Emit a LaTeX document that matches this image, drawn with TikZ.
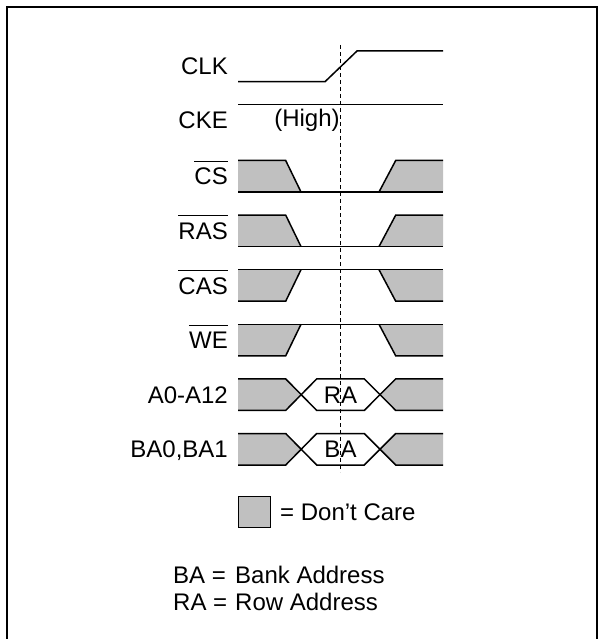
\documentclass[tikz,border=0pt]{standalone}
\usepackage{fontspec}
\setmainfont{Liberation Sans}
\definecolor{dcgray}{RGB}{192,192,192}
\newcommand{\sigLow}[2]{%
  \fill[dc] (238,#1) -- (285.7,#1) -- (301,#2) -- (238,#2) -- cycle;
  \fill[dc] (379,#2) -- (395.7,#1) -- (443,#1) -- (443,#2) -- cycle;
  \draw[sig] (238,#1) -- (285.7,#1) -- (301,#2);
  \draw[sig] (238,#2) -- (443,#2);
  \draw[sig] (379,#2) -- (395.7,#1) -- (443,#1);}
\newcommand{\sigHigh}[2]{%
  \fill[dc] (238,#2) -- (285.7,#2) -- (301,#1) -- (238,#1) -- cycle;
  \fill[dc] (379,#1) -- (395.7,#2) -- (443,#2) -- (443,#1) -- cycle;
  \draw[sig] (238,#2) -- (285.7,#2) -- (301,#1);
  \draw[sig] (238,#1) -- (443,#1);
  \draw[sig] (379,#1) -- (395.7,#2) -- (443,#2);}
\newcommand{\sigBus}[3]{% top, bottom, middle
  \fill[dc] (238,#1) -- (285.7,#1) -- (301,#3) -- (285.7,#2) -- (238,#2) -- cycle;
  \fill[dc] (443,#1) -- (395.7,#1) -- (380,#3) -- (395.7,#2) -- (443,#2) -- cycle;
  \draw[sig] (238,#1) -- (285.7,#1) -- (316.7,#2) -- (364.3,#2) -- (395.7,#1) -- (443,#1);
  \draw[sig] (238,#2) -- (285.7,#2) -- (316.7,#1) -- (364.3,#1) -- (395.7,#2) -- (443,#2);}
\begin{document}
\begin{tikzpicture}[x=1pt,y=-1pt,
  sig/.style={line width=1.5pt},
  dc/.style={fill=dcgray},
  lbl/.style={inner sep=0pt,font=\fontsize{24}{28}\selectfont},
  ovl/.style={line width=1.1pt},
  frame/.style={line width=1.4pt}]
\useasboundingbox (0,0) rectangle (603,639);
\draw[frame] (7,640) -- (7,7) -- (597,7) -- (597,640);

% CLK and CKE
\draw[sig] (238,81.7) -- (325,81.7) -- (357,51) -- (443,51);
\draw[sig] (238,104.3) -- (443,104.3);

% control signals
\sigLow{160.5}{192}
\sigLow{215.1}{246.6}
\sigHigh{269.7}{301.2}
\sigHigh{324.3}{355.8}
\sigBus{378.9}{410.4}{394.65}
\sigBus{433.5}{465}{449.25}

% dashed reference line
\draw[line width=0.8pt,dash pattern=on 4pt off 3pt] (340.5,45) -- (340.5,472);

% labels
\node[lbl,anchor=base east] (clk) at (228,74.5) {CLK};
\node[lbl,anchor=base east] (cke) at (228,129) {CKE};
\node[lbl,anchor=base] (high) at (307,127) {(High)};
\node[lbl,anchor=base east] (cs) at (228,184.8) {CS};
\node[lbl,anchor=base east] (ras) at (228,239.4) {RAS};
\node[lbl,anchor=base east] (cas) at (228,294) {CAS};
\node[lbl,anchor=base east] (we) at (228,348.6) {WE};
\node[lbl,anchor=base east] (addr) at (228,403.3) {A0-A12};
\node[lbl,anchor=base east] (bank) at (228,457.9) {BA0,BA1};
\foreach \n in {cs,ras,cas,we}{
  \draw[ovl] ([yshift=6.5pt]\n.north west) -- ([yshift=6.5pt]\n.north east);
}
\node[lbl,anchor=base] (ra) at (340.5,403.3) {RA};
\node[lbl,anchor=base] (ba) at (340.5,457.9) {BA};

% legend
\draw[sig,fill=dcgray] (238.5,496.5) rectangle (270.5,527.5);
\node[lbl,anchor=base west] (dctext) at (280,520.5) {= Don't Care};
\node[lbl,anchor=base west] (bakey) at (173,583.5) {BA =};
\node[lbl,anchor=base west] (badef) at (235,583.5) {Bank Address};
\node[lbl,anchor=base west] (rakey) at (173,610.5) {RA =};
\node[lbl,anchor=base west] (radef) at (235,610.5) {Row Address};
\end{tikzpicture}
\end{document}
